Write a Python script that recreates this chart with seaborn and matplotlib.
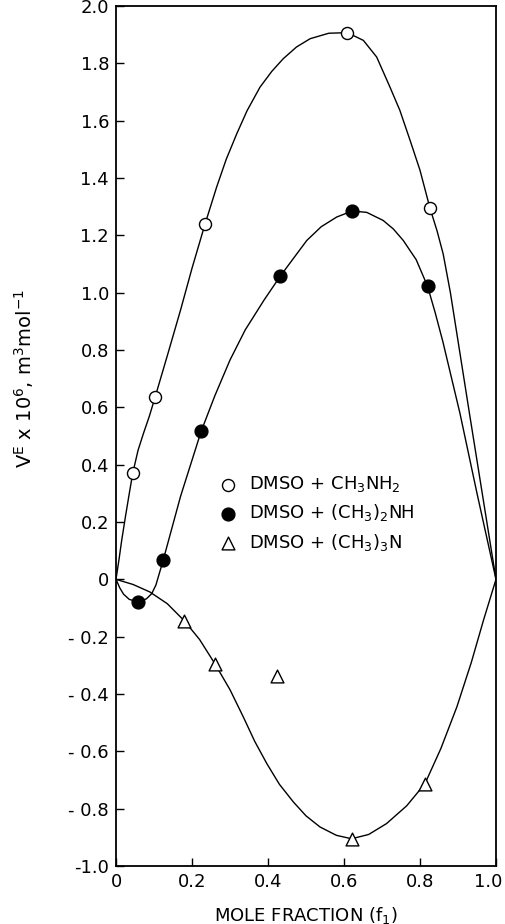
import matplotlib
matplotlib.use("Agg")
import matplotlib.pyplot as plt
import matplotlib.transforms as mtransforms
import seaborn as sns

# measured points (mole fraction f1, V^E x 10^6)
x_ch3nh2 = [0.044, 0.103, 0.234, 0.609, 0.826]
y_ch3nh2 = [0.37, 0.636, 1.238, 1.907, 1.296]

x_ch32nh = [0.059, 0.124, 0.224, 0.432, 0.622, 0.820]
y_ch32nh = [-0.079, 0.066, 0.516, 1.057, 1.285, 1.022]

x_ch33n = [0.18, 0.26, 0.423, 0.62, 0.813]
y_ch33n = [-0.145, -0.294, -0.338, -0.905, -0.713]

# smooth curves
cx_ch3nh2 = [0, 0.008, 0.015, 0.025, 0.035, 0.044, 0.058, 0.072, 0.088, 0.103,
             0.135, 0.17, 0.2, 0.234, 0.265, 0.29, 0.318, 0.345, 0.379, 0.41,
             0.44, 0.475, 0.511, 0.56, 0.609, 0.651, 0.686, 0.721, 0.747, 0.774,
             0.8, 0.826, 0.845, 0.861, 0.88, 0.93, 0.965, 1.0]
cy_ch3nh2 = [0, 0.07, 0.136, 0.22, 0.30, 0.37, 0.45, 0.508, 0.57, 0.636,
             0.78, 0.94, 1.085, 1.238, 1.369, 1.465, 1.555, 1.635, 1.717, 1.772,
             1.816, 1.857, 1.886, 1.905, 1.907, 1.88, 1.822, 1.717, 1.636, 1.531,
             1.427, 1.296, 1.215, 1.135, 1.0, 0.58, 0.29, 0]

cx_ch32nh = [0, 0.01, 0.02, 0.035, 0.059, 0.08, 0.094, 0.105, 0.124, 0.17,
             0.224, 0.26, 0.3, 0.34, 0.39, 0.432, 0.47, 0.502, 0.54, 0.581,
             0.622, 0.66, 0.703, 0.73, 0.756, 0.79, 0.82, 0.84, 0.86, 0.905, 0.95, 1.0]
cy_ch32nh = [0, -0.03, -0.052, -0.07, -0.079, -0.068, -0.05, -0.02, 0.066, 0.29,
             0.516, 0.64, 0.765, 0.87, 0.975, 1.057, 1.125, 1.182, 1.23, 1.264,
             1.285, 1.28, 1.252, 1.222, 1.182, 1.115, 1.022, 0.93, 0.83, 0.58, 0.30, 0]

cx_ch33n = [0, 0.045, 0.089, 0.135, 0.18, 0.22, 0.26, 0.3, 0.335, 0.365,
            0.397, 0.43, 0.467, 0.5, 0.537, 0.58, 0.62, 0.665, 0.712, 0.765,
            0.813, 0.855, 0.897, 0.935, 0.967, 1.0]
cy_ch33n = [0, -0.018, -0.044, -0.085, -0.145, -0.21, -0.294, -0.385, -0.48, -0.565,
            -0.643, -0.715, -0.777, -0.825, -0.864, -0.893, -0.905, -0.89, -0.852, -0.79,
            -0.713, -0.59, -0.445, -0.29, -0.143, 0]

labels = [r"DMSO + CH$_3$NH$_2$", r"DMSO + (CH$_3$)$_2$NH", r"DMSO + (CH$_3$)$_3$N"]

y_ticks = [2.0, 1.8, 1.6, 1.4, 1.2, 1.0, 0.8, 0.6, 0.4, 0.2, 0,
           -0.2, -0.4, -0.6, -0.8, -1.0]
y_ticklabels = ["2.0", "1.8", "1.6", "1.4", "1.2", "1.0", "0.8", "0.6", "0.4", "0.2", "0",
                "- 0.2", "- 0.4", "- 0.6", "- 0.8", "-1.0"]
x_ticks = [0, 0.2, 0.4, 0.6, 0.8, 1.0]
x_ticklabels = ["0", "0.2", "0.4", "0.6", "0.8", "1.0"]

sns.set_style("ticks")
plt.rcParams['font.family'] = ['DejaVu Sans']
plt.rcParams['mathtext.default'] = 'regular'
plt.rcParams['text.color'] = 'black'
plt.rcParams['axes.labelcolor'] = 'black'

fig = plt.figure(figsize=(5.05, 9.24), dpi=100)
ax = fig.add_axes([116 / 505, 1 - 866 / 924, 380 / 505, 860 / 924])

for cx, cy in [(cx_ch3nh2, cy_ch3nh2), (cx_ch32nh, cy_ch32nh), (cx_ch33n, cy_ch33n)]:
    sns.lineplot(x=cx, y=cy, sort=False, color="black", lw=1.0, ax=ax, zorder=2)

sns.scatterplot(x=x_ch3nh2, y=y_ch3nh2, marker="o", s=75, color="white",
                edgecolor="black", linewidth=1.0, label=labels[0], ax=ax, zorder=3)
sns.scatterplot(x=x_ch32nh, y=y_ch32nh, marker="o", s=85, color="black",
                edgecolor="black", linewidth=1.0, label=labels[1], ax=ax, zorder=3)
sns.scatterplot(x=x_ch33n, y=y_ch33n, marker="^", s=85, color="white",
                edgecolor="black", linewidth=1.0, label=labels[2], ax=ax, zorder=3)

ax.set_xlim(0, 1.0)
ax.set_ylim(-1.0, 2.0)
ax.set_xticks(x_ticks)
ax.set_xticklabels(x_ticklabels)
ax.set_yticks(y_ticks)
ax.set_yticklabels(y_ticklabels)
ax.tick_params(direction="in", length=6, width=1.0, labelsize=13, colors="black", pad=5)

# keep the last x tick label inside the figure
last = ax.get_xticklabels()[-1]
last.set_transform(last.get_transform() +
                   mtransforms.ScaledTranslation(-8 / 100, 0, fig.dpi_scale_trans))

for s in ax.spines.values():
    s.set_visible(True)
    s.set_linewidth(1.3)
    s.set_color("black")

ax.set_xlabel(r"MOLE FRACTION (f$_1$)", fontsize=13, labelpad=10)
ax.set_ylabel(r"V$^E$ x 10$^6$, m$^3$mol$^{-1}$", fontsize=14)
ax.yaxis.set_label_coords(-0.21, 0.567)

ax.legend(loc="center left", bbox_to_anchor=(0.27, 0.41), frameon=False,
          fontsize=13, handlelength=1.0, handletextpad=0.7, labelspacing=0.45,
          borderpad=0, borderaxespad=0, labelcolor="black")

fig.savefig("out.png", dpi=100)
